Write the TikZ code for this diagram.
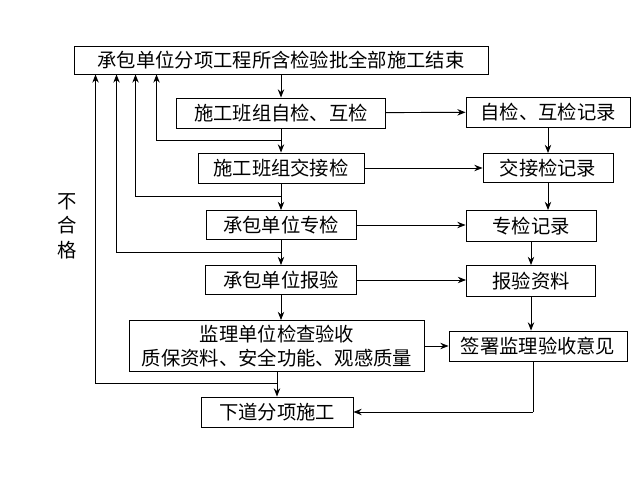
\documentclass[tikz,border=0pt]{standalone}
\usepackage{fontspec}
\setmainfont{Noto Sans CJK SC}
\usetikzlibrary{arrows.meta,calc,positioning}
\tikzstyle{box}=[draw, thick, rectangle, inner sep=0pt, font=\fontsize{16.5}{21}\selectfont]
\tikzstyle{arr}=[-{Stealth[length=7pt,width=5.5pt]}, thick]
\tikzstyle{line}=[-, thick]
\begin{document}
\begin{tikzpicture}[x=0.03cm,y=-0.03cm]
	\useasboundingbox (0,0) rectangle (636,489);
	% left column
	\node [box, minimum width=414*0.03cm, minimum height=28*0.03cm] (top) at (281,60) {承包单位分项工程所含检验批全部施工结束};
	\node [box, minimum width=209*0.03cm, minimum height=30*0.03cm] (s1) at (281,113) {施工班组自检、互检};
	\node [box, minimum width=166*0.03cm, minimum height=30*0.03cm] (s2) at (281,168) {施工班组交接检};
	\node [box, minimum width=150*0.03cm, minimum height=29*0.03cm] (s3) at (281,225) {承包单位专检};
	\node [box, minimum width=151*0.03cm, minimum height=29*0.03cm] (s4) at (281,280) {承包单位报验};
	\node [box, minimum width=295*0.03cm, minimum height=51*0.03cm, align=center] (s5) at (277,346) {监理单位检查验收\\质保资料、安全功能、观感质量};
	\node [box, minimum width=152*0.03cm, minimum height=30*0.03cm] (s6) at (277,412) {下道分项施工};
	% right column
	\node [box, minimum width=164*0.03cm, minimum height=30*0.03cm] (r1) at (548,112) {自检、互检记录};
	\node [box, minimum width=130*0.03cm, minimum height=29*0.03cm] (r2) at (548,168) {交接检记录};
	\node [box, minimum width=130*0.03cm, minimum height=31*0.03cm] (r3) at (531,226) {专检记录};
	\node [box, minimum width=129*0.03cm, minimum height=31*0.03cm] (r4) at (531,281) {报验资料};
	\node [box, minimum width=178*0.03cm, minimum height=30*0.03cm] (r5) at (538,346) {签署监理验收意见};
	\node [font=\fontsize{16.5}{21}\selectfont, align=center] (ng) at (67,226) {不\\合\\格};
	% feedback points
	\coordinate (f1) at (281,140);
	\coordinate (f2) at (281,196);
	\coordinate (f3) at (281,252);
	\coordinate (f4) at (277,383);
	\coordinate (r5b) at (533,412);
	% down arrows
	\draw [arr] (top) to (s1);
	\draw [arr] (s1) to (s2);
	\draw [arr] (s2) to (s3);
	\draw [arr] (s3) to (s4);
	\draw [arr] (s4.south) to (s4.south |- s5.north);
	\draw [arr] (s5) to (s6);
	% not passed
	\draw [arr] (f1) -| ($(top.south west)+(83,0)$);
	\draw [arr] (f2) -| ($(top.south west)+(62,0)$);
	\draw [arr] (f3) -| ($(top.south west)+(43,0)$);
	\draw [arr] (f4) -| ($(top.south west)+(22,0)$);
	% records
	\draw [arr] (s1) to (r1);
	\draw [arr] (s2) to (r2);
	\draw [arr] (s3.east) to (s3.east -| r3.west);
	\draw [arr] (s4.east) to (s4.east -| r4.west);
	\draw [arr] (s5) to (r5);
	\draw [arr] (r1) to (r2);
	\draw [arr] (r2.south) to (r2.south |- r3.north);
	\draw [arr] (r3) to (r4);
	\draw [arr] (r4.south) to (r4.south |- r5.north);
	\draw [line] (r5.south -| r5b) to (r5b);
	\draw [arr] (r5b) to (s6.east |- r5b);
\end{tikzpicture}
\end{document}
